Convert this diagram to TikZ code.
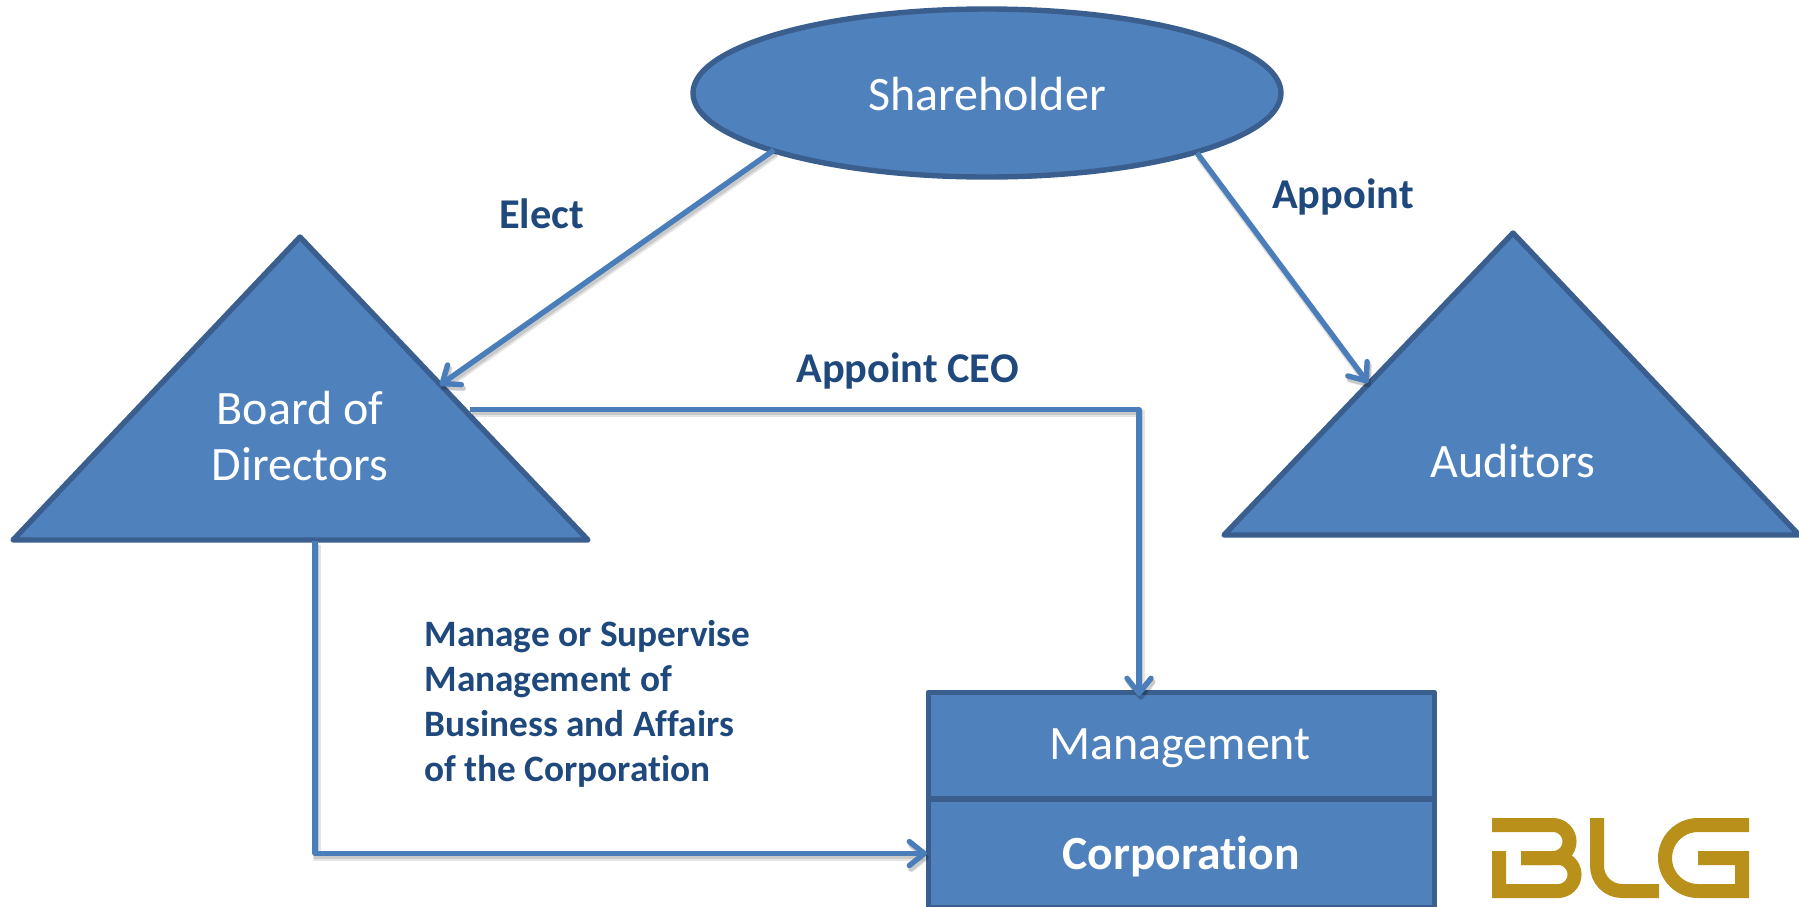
\documentclass[tikz,border=0pt]{standalone}
\usepackage{fontspec}
\setmainfont[Ligatures=NoCommon]{Carlito}
\usetikzlibrary{arrows.meta,shapes.geometric}
\definecolor{fillblue}{HTML}{4F81BD}
\definecolor{edgeblue}{HTML}{3A5F8F}
\definecolor{linkblue}{HTML}{4A7EBB}
\definecolor{labelblue}{HTML}{1F497D}
\definecolor{logogold}{HTML}{B8901A}
\tikzset{
  x=0.5pt,y=-0.5pt,
  shapebox/.style={fill=fillblue,draw=edgeblue,line width=2.7pt,line join=round},
  bigtext/.style={text=white,font=\fontsize{24}{28}\selectfont,inner sep=0pt,align=center},
  bigbold/.style={bigtext,font=\fontsize{23.8}{28}\selectfont\bfseries},
  labeltext/.style={text=labelblue,font=\fontsize{21.2}{26}\selectfont\bfseries,inner sep=0pt},
  smalllabel/.style={text=labelblue,font=\fontsize{18.65}{22.5}\selectfont\bfseries,inner sep=0pt},
  link/.style={draw=linkblue,line width=2.7pt,line join=round,
    preaction={draw=black,opacity=0.10,line width=3.6pt,transform canvas={shift={(1pt,-2pt)}}},
    preaction={draw=black,opacity=0.12,line width=2.6pt,transform canvas={shift={(0.8pt,-1.6pt)}}}},
  linkhead/.style={link,-{Straight Barb[length=7.5pt,width=12pt,line width=2.7pt,round]}},
  logostroke/.style={draw=logogold,line width=7pt,line join=miter,fill=none}
}
\begin{document}
\begin{tikzpicture}
\useasboundingbox (0,0) rectangle (1799,906);
% shapes
\node[ellipse,shapebox,minimum width=294pt,minimum height=84pt,inner sep=0pt] (holder) at (987,93) {};
\coordinate (bdA) at (300,237);
\coordinate (bdL) at (13,540);
\coordinate (bdR) at (588,540);
\draw[shapebox] (bdA) -- (bdL) -- (bdR) -- cycle;
\coordinate (auA) at (1513,233);
\coordinate (auL) at (1224,535);
\coordinate (auR) at (1799,535);
\draw[shapebox] (auA) -- (auL) -- (auR) -- cycle;
\node[shapebox,rectangle,minimum width=253pt,minimum height=53pt,inner sep=0pt,anchor=north west] (mgmt) at (925.5,689.5) {};
\node[shapebox,rectangle,minimum width=253pt,minimum height=54pt,inner sep=0pt,anchor=north west] (corp) at (925.5,797) {};
% texts on shapes
\node[bigtext] (tholder) at (987,94) {Shareholder};
\node[bigtext] (tboard) at (300,436) {Board of\\Directors};
\node[bigtext] (taud) at (1513,461) {Auditors};
\node[bigtext] (tmgmt) at (1180,748) {Management};
\node[bigbold] (tcorp) at (1181,857) {Corporation};
% connector anchors
\coordinate (e1) at (774,150);
\coordinate (e2) at (440,385);
\coordinate (a1) at (1197,153);
\coordinate (a2) at (1368,383);
\coordinate (c1) at (470,409.5);
\coordinate (c2) at (1139,409.5);
\coordinate (c3) at (1139,696);
\coordinate (m1) at (315,541);
\coordinate (m2) at (315,853.5);
\coordinate (m3) at (927,853.5);
\draw[linkhead] (e1) -- (e2);
\draw[linkhead] (a1) -- (a2);
\draw[linkhead] (c1) -- (c2) -- (c3);
\draw[linkhead] (m1) -- (m2) -- (m3);
% labels
\node[labeltext] (lelect) at (541.5,214) {Elect};
\node[labeltext] (lappoint) at (1343,197) {Appoint};
\node[labeltext] (lceo) at (907.5,371) {Appoint CEO};
\node[smalllabel,align=left,anchor=north west] (lmanage) at (424,620) {Manage or Supervise\\Management of\\Business and Affairs\\of the Corporation};
% logo
\draw[logostroke] (1492,825) -- (1553,825) arc[start angle=-90,end angle=90,radius=16.5] -- (1521,858);
\draw[logostroke] (1521,858) -- (1558,858) arc[start angle=-90,end angle=90,radius=16.5] -- (1499,891) -- (1499,851);
\draw[logostroke] (1597,818) -- (1597,866) arc[start angle=180,end angle=90,radius=25] -- (1659,891);
\draw[logostroke] (1749,825) -- (1698,825) arc[start angle=-90,end angle=-270,radius=33] -- (1742,891) -- (1742,858) -- (1698,858);
\end{tikzpicture}
\end{document}
